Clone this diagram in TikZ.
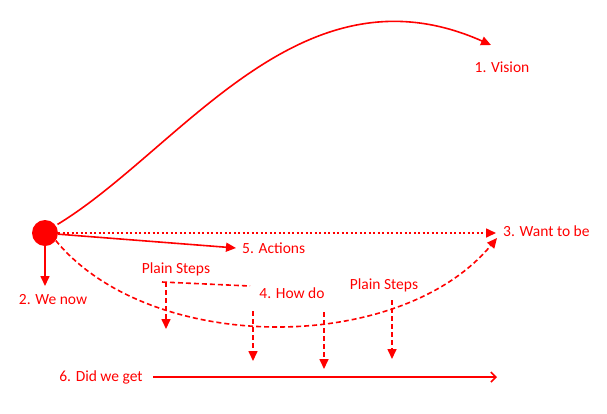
\documentclass[tikz,border=0pt]{standalone}
\usepackage{fontspec}
\setmainfont{Carlito}
\usetikzlibrary{arrows.meta}
\definecolor{rd}{RGB}{255,0,0}
\tikzset{
  lbl/.style={text=rd, font=\fontsize{15.5}{18}\selectfont, inner sep=0pt},
  ln/.style={draw=rd, line width=1.6pt},
  tip/.style={-{Triangle[length=10pt,width=9pt]}},
  dsh/.style={dash pattern=on 5pt off 3pt},
}
\begin{document}
\begin{tikzpicture}[x=1pt,y=-1pt]
\useasboundingbox (0,0) rectangle (607,413);
\node[circle, fill=rd, minimum size=26pt, inner sep=0pt] (me) at (45,233) {};
\node[lbl] (vision) at (502,67) {1. Vision};
\node[lbl] (wenow) at (53,300) {2. We now};
\node[lbl, anchor=west] (want) at (503,231) {3. Want to be};
\node[lbl] (howdo) at (292,293) {4. How do};
\node[lbl, anchor=west] (actions) at (242,248) {5. Actions};
\node[lbl] (did) at (101,377) {6. Did we get};
\node[lbl] (ps1) at (176,269) {Plain Steps};
\node[lbl] (ps2) at (384,285) {Plain Steps};

\coordinate (vtip) at (491,45);
\coordinate (wtip) at (496,233);
\coordinate (atip) at (236,248);
\coordinate (ntip) at (45,286);
\coordinate (ctip) at (497,238);
\coordinate (gs) at (153,377);
\coordinate (ge) at (497,377);

% vision curve
\draw[ln, tip, shorten <=2pt] (me.35) .. controls (180,150) and (300,-40) .. (vtip);
% dotted to want to be
\draw[ln, tip, dash pattern=on 2pt off 2.5pt] (me.east) -- (wtip);
% actions
\draw[ln, tip] (me.-5) -- (atip);
% we now
\draw[ln, tip] (me.south) -- (ntip);
% dashed curve
\draw[ln, tip, dsh] (me.-35) .. controls (150,355) and (400,355) .. (ctip);
% bracket
\coordinate (b1) at (162,282);
\coordinate (b2) at (250,286);
\draw[ln, dsh] (b1) -- (b2);
\draw[ln, tip, dsh] (166,282) -- (166,329);
% step arrows
\draw[ln, tip, dsh] (253,311) -- (253,361);
\draw[ln, tip, dsh] (324,312) -- (324,369);
\draw[ln, tip, dsh] (392,300) -- (392,359);
% did we get
\draw[ln, -{Straight Barb[length=5pt,width=10pt]}] (gs) -- (ge);
\end{tikzpicture}
\end{document}
